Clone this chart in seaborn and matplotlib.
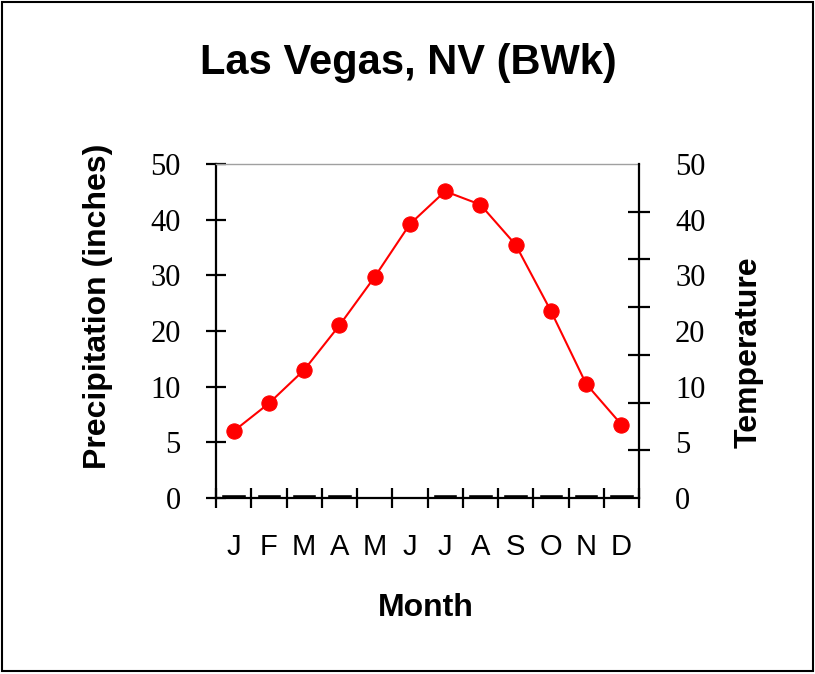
import matplotlib.pyplot as plt
import numpy as np
import pandas as pd
import seaborn as sns
from matplotlib.patches import Rectangle
from matplotlib.ticker import FixedLocator, NullFormatter

# Climograph data
months = ["Jan", "Feb", "Mar", "Apr", "May", "Jun",
          "Jul", "Aug", "Sep", "Oct", "Nov", "Dec"]
month_letters = ["J", "F", "M", "A", "M", "J", "J", "A", "S", "O", "N", "D"]
temperature = [6.0, 8.5, 13.0, 21.0, 29.7, 39.2, 45.1, 42.7, 35.5, 23.6, 10.5, 6.6]
precipitation = [0.35, 0.35, 0.35, 0.35, 0.0, 0.0, 0.35, 0.35, 0.35, 0.35, 0.35, 0.35]
axis_ticks = [0, 5, 10, 20, 30, 40, 50]

sns.set_style("white")
plt.rcParams["font.family"] = ["Liberation Sans", "DejaVu Sans"]
plt.rcParams.update({"text.color": "black", "xtick.color": "black",
                     "ytick.color": "black", "axes.labelcolor": "black"})

# the original axis spaces its (uneven) tick values evenly
steps = np.arange(len(axis_ticks))


def forward(v):
    return np.interp(v, axis_ticks, steps)


def inverse(p):
    return np.interp(p, steps, axis_ticks)


df = pd.DataFrame({"month": months, "precip": precipitation, "temp": temperature})

fig = plt.figure(figsize=(8.15, 6.74), dpi=100)
ax = fig.add_axes([216 / 815, 1 - 498 / 674, 423 / 815, 334 / 674])
ax.set_yscale("function", functions=(forward, inverse))

sns.barplot(data=df, x="month", y="precip", color="black", width=0.7,
            saturation=1, ax=ax)
sns.lineplot(x=df.index, y=df["temp"], color="red", linewidth=1.5,
             marker="o", markersize=11, markeredgecolor="red", ax=ax)

ax.set_xlim(-0.5, 11.5)
ax.set_ylim(0, 50)
ax.set_xlabel("")
ax.set_ylabel("")

# x: ticks at month boundaries, letters centred in each month
ax.xaxis.set_major_locator(FixedLocator(np.arange(-0.5, 12, 1)))
ax.xaxis.set_major_formatter(NullFormatter())
ax.set_xticks(np.arange(12), month_letters, minor=True)
ax.tick_params(axis="x", which="major", direction="inout", length=14,
               width=1.6, color="black", bottom=True)
ax.tick_params(axis="x", which="minor", length=0, pad=25, labelsize=21,
               bottom=True)

ax.set_yticks(axis_ticks, [str(t) for t in axis_ticks])
ax.yaxis.set_minor_locator(FixedLocator([]))
ax.tick_params(axis="y", which="major", direction="inout", length=15,
               width=1.6, color="black", pad=18, labelsize=22,
               labelfontfamily="Liberation Serif", left=True)

for side in ["left", "bottom"]:
    ax.spines[side].set_color("black")
    ax.spines[side].set_linewidth(1.6)
ax.spines["top"].set_color("#a0a0a0")
ax.spines["top"].set_linewidth(1.0)
ax.spines["right"].set_visible(False)

# right axis: unlabelled ticks in 7 steps, labels copied from the left
ax2 = ax.twinx()
ax2.set_ylim(0, 7)
ax2.set_yticks(np.linspace(0, 7, len(axis_ticks)), [str(t) for t in axis_ticks])
ax2.yaxis.set_minor_locator(FixedLocator(np.arange(8)))
ax2.tick_params(axis="y", which="major", length=0, pad=26, labelsize=22,
                labelfontfamily="Liberation Serif", right=True)
ax2.tick_params(axis="y", which="minor", direction="inout", length=16,
                width=1.6, color="black", right=True)
for side in ["left", "bottom", "top"]:
    ax2.spines[side].set_visible(False)
ax2.spines["right"].set_color("black")
ax2.spines["right"].set_linewidth(1.6)

fig.text(408 / 815, 1 - 74 / 674, "Las Vegas, NV (BWk)", ha="center",
         va="baseline", fontsize=30, fontweight="bold")
fig.text(426 / 815, 1 - 616 / 674, "Month", ha="center", va="baseline",
         fontsize=23, fontweight="bold")
fig.text(98 / 815, 1 - 306 / 674, "Precipitation (inches)", rotation=90,
         ha="center", va="center", fontsize=23, fontweight="bold")
fig.text(749 / 815, 1 - 352 / 674, "Temperature", rotation=90,
         ha="center", va="center", fontsize=23, fontweight="bold")

fig.add_artist(Rectangle((0.003, 0.004), 0.994, 0.993, transform=fig.transFigure,
                         fill=False, edgecolor="black", linewidth=1.5))

fig.savefig("out.png", dpi=100)
plt.close(fig)
